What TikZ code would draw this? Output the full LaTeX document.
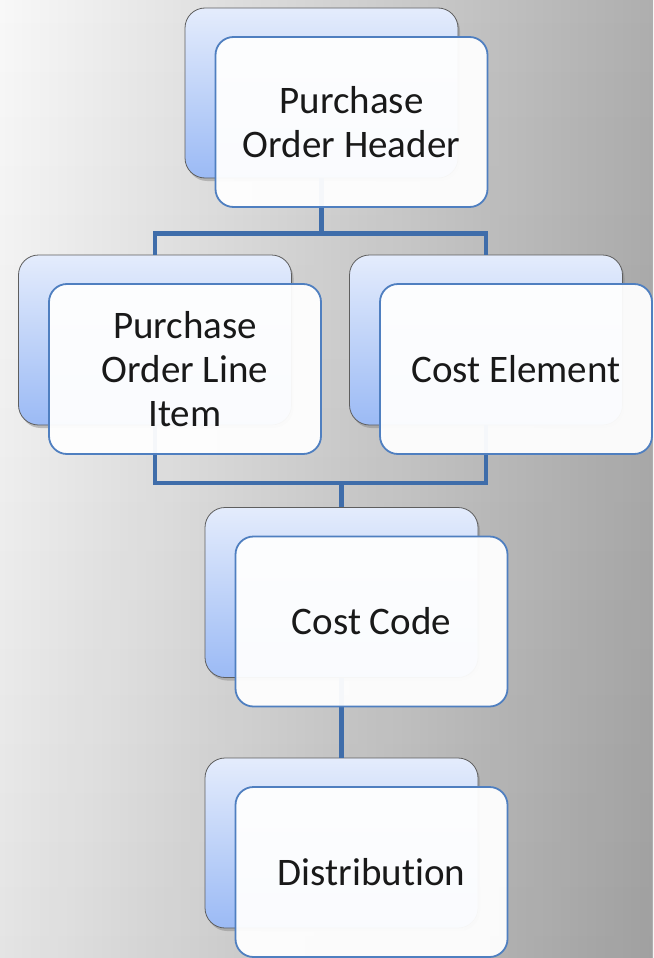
\documentclass[tikz,border=0pt]{standalone}
\usepackage{fontspec}
\setmainfont{Carlito}[Ligatures=NoCommon]
\usetikzlibrary{positioning,shadows,fadings}

\definecolor{bgleft}{HTML}{F8F8F8}
\definecolor{bgright}{HTML}{AEAEAE}
\definecolor{backtop}{HTML}{E4ECFC}
\definecolor{backbot}{HTML}{9BBAF5}
\definecolor{backedge}{HTML}{5E5E5E}
\definecolor{frontedge}{HTML}{4F7FC0}
\definecolor{linkblue}{HTML}{3F6DAA}

\begin{document}
\begin{tikzpicture}[%
    x=1pt, y=1pt,
    on grid,
    backbox/.style={rectangle, rounded corners=20pt, draw=backedge, line width=0.8pt,
        top color=backtop, bottom color=backbot,
        minimum width=273pt, minimum height=170pt,
        drop shadow={shadow xshift=2pt, shadow yshift=-3pt, opacity=0.45}},
    frontbox/.style={rectangle, rounded corners=18pt, draw=frontedge, line width=1.8pt,
        fill=white, fill opacity=0.95, text opacity=1,
        minimum width=272pt, minimum height=170pt,
        align=center, text=black!90, font=\fontsize{39}{44}\selectfont},
    link/.style={draw=linkblue, line width=4.5pt}
    ]

    \useasboundingbox (0,0) rectangle (653,-958);
    \fill[left color=bgleft, right color=bgright] (0,0) rectangle (653,-958);
    \fill[black, opacity=0.08, path fading=north] (0,0) rectangle (653,-958);

    \node[backbox] (hdrback) at (321.5,-93) {};
    \node[backbox] (lineback) [below left=247pt and 166.5pt of hdrback] {};
    \node[backbox] (costback) [below right=247pt and 164.5pt of hdrback] {};
    \node[backbox] (codeback) [below right=252.5pt and 186.5pt of lineback] {};
    \node[backbox] (distback) [below=250.5pt of codeback] {};

    \path (hdrback.south) ++(0,-55) coordinate (split);
    \path (codeback.north) ++(0,24) coordinate (merge);

    \draw[link] (hdrback.south) -- (split);
    \draw[link] (lineback.north) |- (split) -| (costback.north);
    \draw[link] (lineback.south) |- (merge) -| (costback.south);
    \draw[link] (merge) -- (codeback.north);
    \draw[link] (codeback.south) -- (distback.north);

    \node[frontbox] (hdr) [below right=29pt and 30pt of hdrback] {Purchase\\Order Header};
    \node[frontbox] (line) [below right=29pt and 30pt of lineback] {Purchase\\Order Line\\Item};
    \node[frontbox] (cost) [below right=29pt and 30pt of costback] {Cost Element};
    \node[frontbox] (code) [below right=29pt and 30pt of codeback] {Cost Code};
    \node[frontbox] (dist) [below right=29pt and 30pt of distback] {Distribution};

\end{tikzpicture}
\end{document}
